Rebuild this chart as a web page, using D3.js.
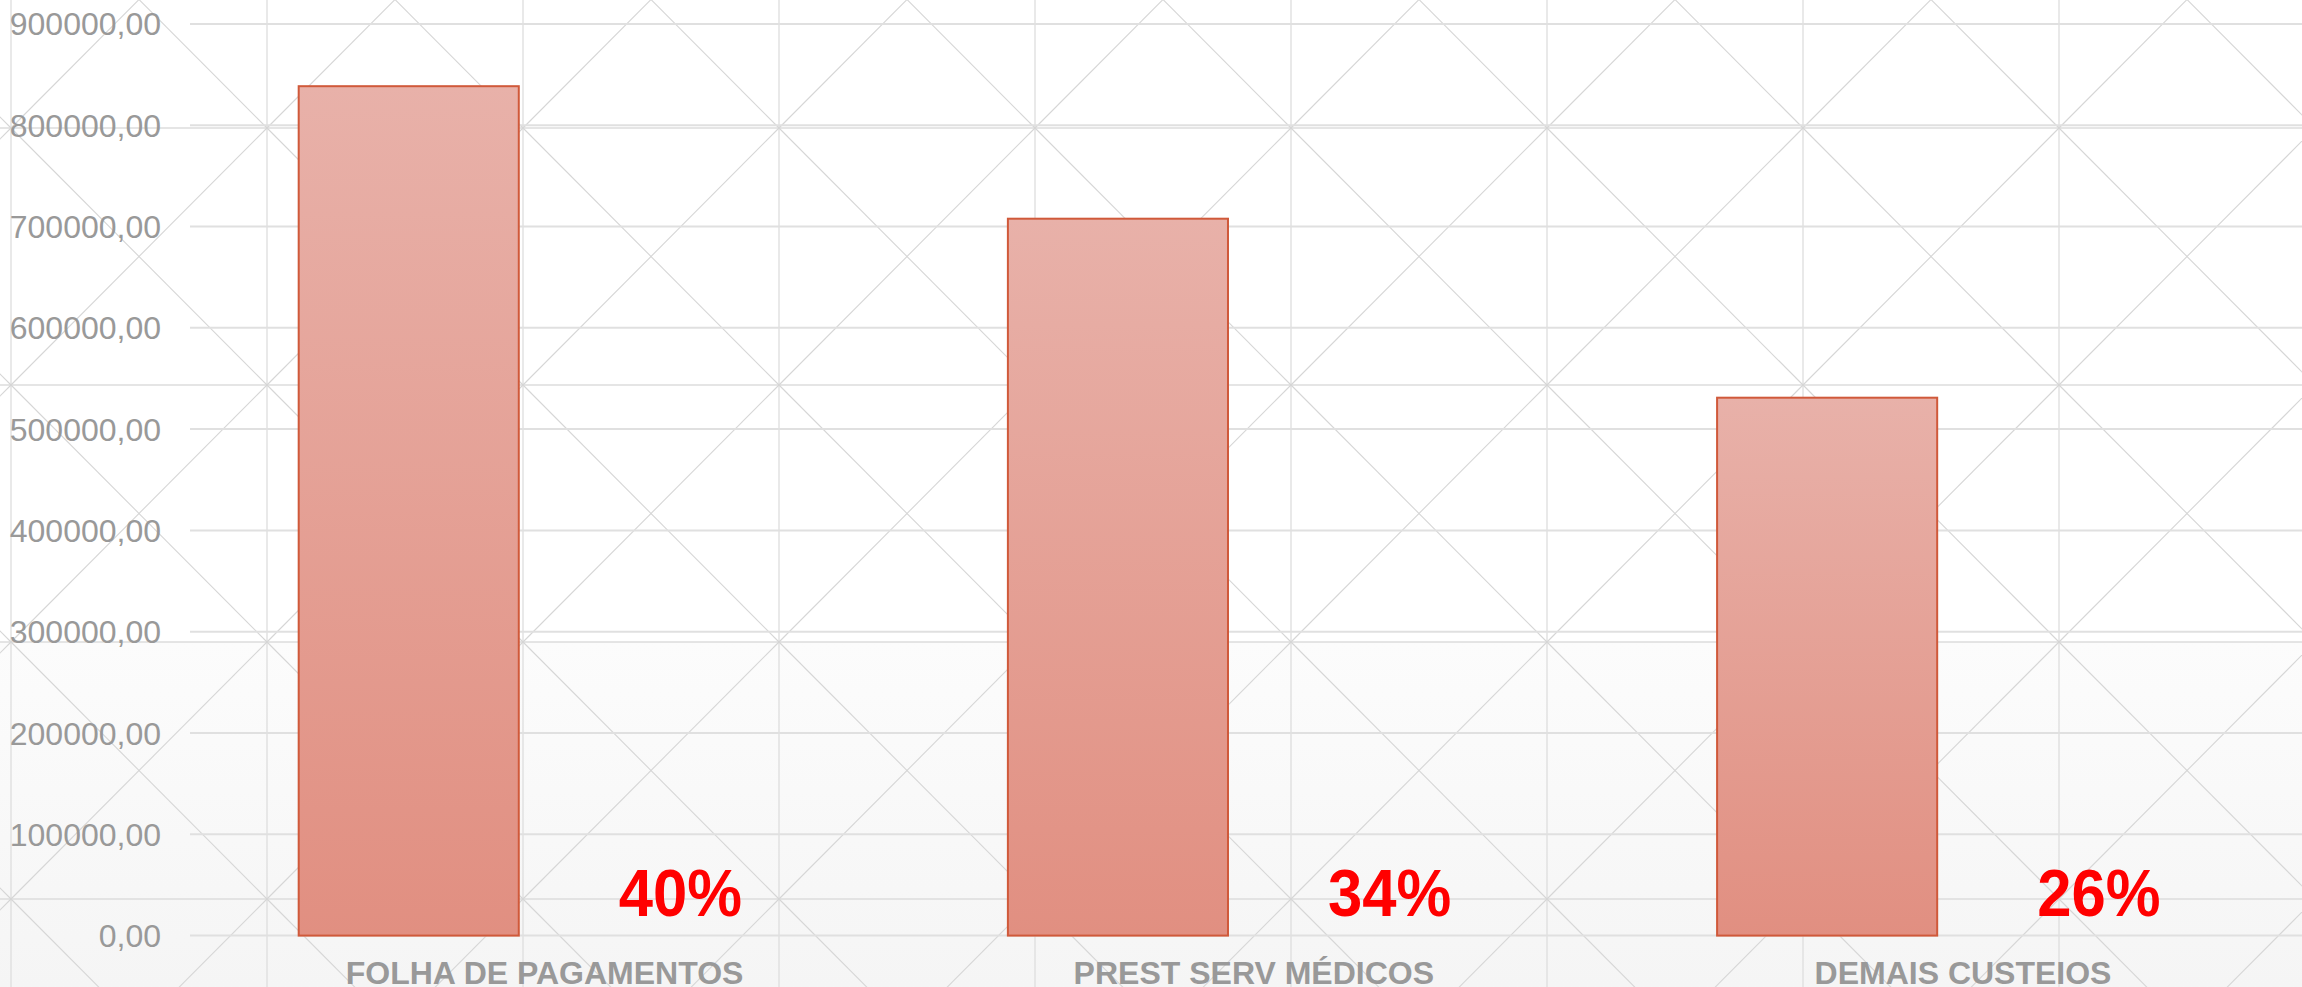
<!DOCTYPE html>
<html>
<head>
<meta charset="utf-8">
<script src="https://cdn.jsdelivr.net/npm/d3@7"></script>
<style>
  html, body { margin: 0; padding: 0; overflow: hidden; background: #fff; }
  svg { display: block; font-family: "Liberation Sans", Arial, sans-serif; }
</style>
</head>
<body>
<div id="chart"></div>
<script>
// chart data
const categories = ["FOLHA DE PAGAMENTOS", "PREST SERV MÉDICOS", "DEMAIS CUSTEIOS"];
const valores = [838500, 707700, 531000];
const zeros = [0, 0, 0];
const percentLabels = ["40%", "34%", "26%"];
const yTicks = [0, 100000, 200000, 300000, 400000, 500000, 600000, 700000, 800000, 900000];

const width = 2302, height = 987;

const svg = d3.select("#chart")
    .append("svg")
    .attr("width", width)
    .attr("height", height);

const defs = svg.append("defs");

// bar fill gradient (lighter at top)
const barGrad = defs.append("linearGradient")
    .attr("id", "barGrad")
    .attr("x1", 0).attr("y1", 0).attr("x2", 0).attr("y2", 1);
barGrad.append("stop").attr("offset", "0%").attr("stop-color", "#e8b1a9");
barGrad.append("stop").attr("offset", "100%").attr("stop-color", "#e18f81");

// soft grey band at the bottom of the page
const bgGrad = defs.append("linearGradient")
    .attr("id", "bgGrad")
    .attr("x1", 0).attr("y1", 0).attr("x2", 0).attr("y2", 1);
bgGrad.append("stop").attr("offset", "0%").attr("stop-color", "#fcfcfc");
bgGrad.append("stop").attr("offset", "100%").attr("stop-color", "#f5f5f5");

svg.append("rect").attr("width", width).attr("height", height).attr("fill", "#fff");
svg.append("rect").attr("y", 642).attr("width", width).attr("height", height - 642).attr("fill", "url(#bgGrad)");

// background pattern: square grid with X diagonals
const cellW = 256, cellH = 257, gx0 = 11, gy0 = 128;
const bg = svg.append("g");
for (let i = -1; i <= 9; i++) {
    bg.append("line")
        .attr("x1", gx0 + i * cellW).attr("x2", gx0 + i * cellW)
        .attr("y1", 0).attr("y2", height)
        .attr("stroke", "#dddddd").attr("stroke-width", 1.3);
}
for (let j = -1; j <= 4; j++) {
    bg.append("line")
        .attr("x1", 0).attr("x2", width)
        .attr("y1", gy0 + j * cellH).attr("y2", gy0 + j * cellH)
        .attr("stroke", "#dddddd").attr("stroke-width", 1.3);
}
for (let i = -1; i <= 9; i++) {
    for (let j = -1; j <= 4; j++) {
        const x0 = gx0 + i * cellW, y0 = gy0 + j * cellH;
        bg.append("line")
            .attr("x1", x0).attr("y1", y0).attr("x2", x0 + cellW).attr("y2", y0 + cellH)
            .attr("stroke", "#d6d6d6").attr("stroke-width", 1.1);
        bg.append("line")
            .attr("x1", x0 + cellW).attr("y1", y0).attr("x2", x0).attr("y2", y0 + cellH)
            .attr("stroke", "#d6d6d6").attr("stroke-width", 1.1);
    }
}

// scales
const plotLeft = 190, step = 709.2;
const x = d3.scaleBand()
    .domain(categories)
    .range([plotLeft, plotLeft + step * categories.length]);

const xSub = d3.scaleBand()
    .domain(["valor", "zero"])
    .range([0, x.bandwidth()])
    .paddingInner(0.19)
    .paddingOuter(0.4);

const y = d3.scaleLinear()
    .domain([0, 900000])
    .range([935.6, 23.9]);

const fmt = d3.formatLocale({ decimal: ",", thousands: ".", grouping: [3], currency: ["R$", ""] }).format(".2f");

// grid lines
svg.append("g")
    .selectAll("line")
    .data(yTicks)
    .enter()
    .append("line")
    .attr("x1", plotLeft)
    .attr("x2", width)
    .attr("y1", d => y(d))
    .attr("y2", d => y(d))
    .attr("stroke", "#e0e0e0")
    .attr("stroke-width", 2);

// y axis labels
svg.append("g")
    .selectAll("text")
    .data(yTicks)
    .enter()
    .append("text")
    .attr("x", 161)
    .attr("y", d => y(d))
    .attr("dy", "0.36em")
    .attr("text-anchor", "end")
    .attr("fill", "#999")
    .style("font-size", "32px")
    .text(d => fmt(d));

// bars
svg.append("g")
    .selectAll("rect")
    .data(valores)
    .enter()
    .append("rect")
    .attr("x", (d, i) => x(categories[i]) + xSub("valor"))
    .attr("y", d => y(d))
    .attr("width", xSub.bandwidth())
    .attr("height", d => y(0) - y(d))
    .attr("fill", "url(#barGrad)")
    .attr("stroke", "#d0593a")
    .attr("stroke-width", 2);

// zero-valued second series
svg.append("g")
    .selectAll("rect")
    .data(zeros)
    .enter()
    .append("rect")
    .attr("x", (d, i) => x(categories[i]) + xSub("zero"))
    .attr("y", d => y(d))
    .attr("width", xSub.bandwidth())
    .attr("height", d => y(0) - y(d))
    .attr("fill", "none")
    .attr("stroke", "#c6c6c6")
    .attr("stroke-width", 2.5);

// percentage labels (slightly condensed)
svg.append("g")
    .selectAll("text")
    .data(percentLabels)
    .enter()
    .append("text")
    .attr("transform", (d, i) => {
        const cx = x(categories[i]) + xSub("zero") + xSub.bandwidth() / 2;
        return `translate(${cx},${y(zeros[i]) - 20}) scale(0.92,1)`;
    })
    .attr("text-anchor", "middle")
    .attr("fill", "#ff0000")
    .style("font-size", "67px")
    .style("font-weight", "bold")
    .text(d => d);

// category labels
svg.append("g")
    .selectAll("text")
    .data(categories)
    .enter()
    .append("text")
    .attr("x", d => x(d) + x.bandwidth() / 2)
    .attr("y", 984)
    .attr("text-anchor", "middle")
    .attr("fill", "#999")
    .style("font-size", "32px")
    .style("font-weight", "bold")
    .text(d => d);
</script>
</body>
</html>
